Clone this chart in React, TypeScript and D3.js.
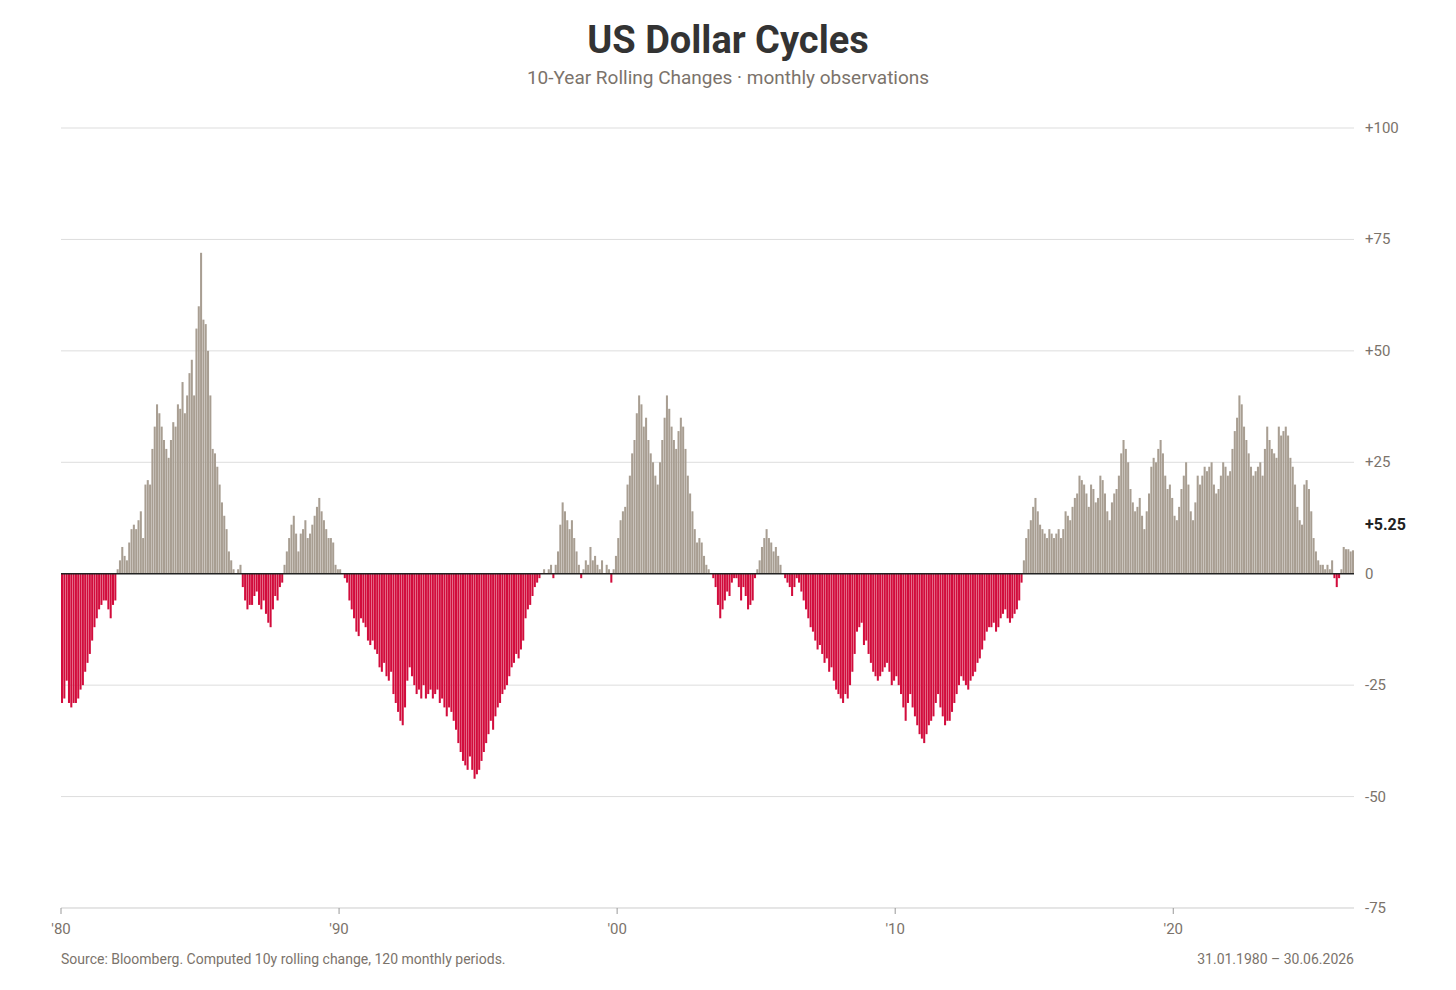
import * as d3 from "d3";

// Yearly blocks of monthly 10y rolling changes (%), Jan..Dec
const years = d3.range(1980, 2027);
const v1980 = [-29, -28, -24, -29, -30, -29, -29, -28, -26, -25, -22, -20];
const v1981 = [-18, -15, -12, -10, -8, -7, -6, -6, -8, -10, -7, -6];
const v1982 = [1, 3, 6, 4, 3, 7, 10, 11, 10, 12, 14, 8];
const v1983 = [20, 21, 20, 28, 33, 38, 36, 33, 30, 28, 26, 30];
const v1984 = [34, 33, 38, 37, 43, 36, 40, 45, 48, 40, 55, 60];
const v1985 = [72, 57, 56, 50, 40, 28, 27, 24, 20, 16, 13, 10];
const v1986 = [5, 3, 1, 0, 1, 2, -3, -6, -8, -7, -7, -5];
const v1987 = [-4, -7, -8, -6, -9, -11, -12, -8, -5, -6, -3, -2];
const v1988 = [2, 5, 8, 11, 13, 9, 5, 9, 10, 12, 8, 9];
const v1989 = [11, 13, 15, 17, 14, 12, 10, 8, 8, 7, 2, 1];
const v1990 = [1, 0, -1, -2, -6, -8, -10, -13, -14, -10, -11, -12];
const v1991 = [-15, -16, -15, -17, -18, -21, -22, -20, -23, -24, -22, -27];
const v1992 = [-29, -31, -33, -34, -30, -24, -21, -23, -25, -27, -26, -28];
const v1993 = [-25, -28, -27, -26, -28, -27, -26, -29, -28, -30, -32, -30];
const v1994 = [-31, -33, -35, -38, -40, -42, -43, -44, -41, -44, -46, -45];
const v1995 = [-44, -42, -40, -38, -36, -33, -35, -32, -30, -29, -27, -26];
const v1996 = [-25, -23, -21, -20, -18, -19, -17, -15, -10, -8, -7, -5];
const v1997 = [-3, -2, -1, 0, 1, 0, 1, 2, -1, 2, 5, 11];
const v1998 = [16, 14, 12, 10, 12, 8, 5, 2, -1, 1, 3, 2];
const v1999 = [6, 3, 4, 2, 1, 3, 0, 2, 1, -2, 1, 4];
const v2000 = [8, 12, 14, 15, 20, 22, 27, 30, 36, 40, 38, 33];
const v2001 = [35, 30, 27, 25, 22, 20, 25, 30, 35, 40, 37, 33];
const v2002 = [30, 28, 32, 35, 33, 28, 22, 18, 14, 10, 7, 8];
const v2003 = [7, 4, 2, 1, 0, -1, -3, -7, -10, -8, -6, -4];
const v2004 = [-5, -2, -1, -1, -3, -6, -3, -5, -8, -7, -6, -1];
const v2005 = [1, 3, 6, 8, 10, 8, 7, 5, 6, 4, 2, 0];
const v2006 = [-1, -2, -3, -5, -3, -1, -2, -4, -6, -8, -10, -12];
const v2007 = [-13, -15, -17, -16, -18, -20, -19, -22, -21, -24, -26, -27];
const v2008 = [-28, -29, -27, -28, -25, -22, -18, -13, -12, -11, -16, -15];
const v2009 = [-18, -20, -22, -23, -24, -23, -22, -21, -20, -22, -25, -24];
const v2010 = [-23, -25, -27, -30, -33, -29, -27, -30, -32, -34, -36, -37];
const v2011 = [-38, -36, -34, -33, -32, -29, -27, -30, -32, -34, -33, -33];
const v2012 = [-31, -29, -27, -25, -23, -24, -25, -26, -24, -23, -22, -20];
const v2013 = [-19, -17, -15, -13, -12, -12, -11, -13, -12, -10, -9, -8];
const v2014 = [-10, -11, -10, -9, -8, -6, -2, 3, 8, 10, 12, 15];
const v2015 = [17, 14, 11, 10, 9, 8, 10, 9, 8, 9, 10, 8];
const v2016 = [10, 14, 13, 12, 15, 17, 18, 22, 21, 20, 18, 15];
const v2017 = [20, 19, 16, 17, 22, 21, 18, 14, 12, 16, 18, 19];
const v2018 = [22, 27, 30, 28, 25, 19, 16, 14, 15, 17, 13, 10];
const v2019 = [14, 18, 24, 26, 25, 28, 30, 27, 22, 19, 20, 17];
const v2020 = [13, 12, 15, 19, 22, 25, 20, 14, 12, 16, 22, 20];
const v2021 = [22, 24, 23, 24, 25, 20, 18, 19, 22, 25, 24, 22];
const v2022 = [23, 28, 32, 35, 40, 38, 33, 30, 27, 24, 22, 23];
const v2023 = [24, 25, 22, 28, 33, 30, 28, 27, 26, 33, 31, 32];
const v2024 = [33, 31, 26, 24, 20, 15, 12, 11, 20, 21, 19, 14];
const v2025 = [8, 5, 3, 2, 2, 1, 2, 1, 3, -1, -3, -1];
const v2026 = [1, 6, 5.5, 5.5, 5, 5.25];

const yTicks = [100, 75, 50, 25, 0, -25, -50, -75];
const xTickYears = [1980, 1990, 2000, 2010, 2020];

const blocks = [
  v1980, v1981, v1982, v1983, v1984, v1985, v1986, v1987, v1988, v1989,
  v1990, v1991, v1992, v1993, v1994, v1995, v1996, v1997, v1998, v1999,
  v2000, v2001, v2002, v2003, v2004, v2005, v2006, v2007, v2008, v2009,
  v2010, v2011, v2012, v2013, v2014, v2015, v2016, v2017, v2018, v2019,
  v2020, v2021, v2022, v2023, v2024, v2025, v2026,
];
const values: { i: number; v: number }[] = [];
blocks.forEach((b) => b.forEach((v) => values.push({ i: values.length, v })));

const FONT = "Roboto, 'Noto Sans', sans-serif";

export default function App() {
  const left = 61;
  const right = 1354;
  const x = d3.scaleBand<number>().domain(values.map((d) => d.i)).range([left, right]).paddingInner(0.12);
  const y = d3.scaleLinear().domain([-75, 100]).range([908, 128]);
  const monthX = (yr: number) => left + ((yr - 1980) * 12) * ((right - left) / values.length);
  const last = values[values.length - 1].v;

  return (
    <svg width={1456} height={990} style={{ position: "absolute", left: 0, top: 0, background: "#fff" }} fontFamily={FONT}>
      <text x={728} y={53} textAnchor="middle" fontSize={38} fontWeight={700} fill="#333">US Dollar Cycles</text>
      <text x={728} y={84} textAnchor="middle" fontSize={19} fill="#7b736b">10-Year Rolling Changes · monthly observations</text>

      {yTicks.map((t) => (
        <g key={t}>
          {t !== 0 && <line x1={left} x2={1354} y1={y(t)} y2={y(t)} stroke="#ddd" strokeWidth={1} />}
          <text x={1365} y={y(t) + 5} fontSize={15} fill="#7b736b">{t > 0 ? `+${t}` : `${t}`}</text>
        </g>
      ))}

      {values.map((d) => (
        <rect
          key={d.i}
          x={x(d.i)}
          width={x.bandwidth()}
          y={d.v >= 0 ? y(d.v) : y(0)}
          height={Math.abs(y(d.v) - y(0))}
          fill={d.v >= 0 ? "#a89e92" : "#d20c3c"}
        />
      ))}

      <line x1={left} x2={1354} y1={y(0)} y2={y(0)} stroke="#222" strokeWidth={1.5} />
      <text x={1365} y={y(last) - 20} fontSize={16} fontWeight={700} fill="#222">+{last.toFixed(2)}</text>

      <line x1={left} x2={1354} y1={908} y2={908} stroke="#ddd" />
      {xTickYears.map((yr) => (
        <g key={yr}>
          <line x1={monthX(yr)} x2={monthX(yr)} y1={908} y2={914} stroke="#999" />
          <text x={monthX(yr)} y={934} textAnchor="middle" fontSize={15} fill="#7b736b">'{String(yr).slice(2)}</text>
        </g>
      ))}

      <text x={61} y={964} fontSize={14} fill="#7b736b">Source: Bloomberg. Computed 10y rolling change, 120 monthly periods.</text>
      <text x={1354} y={964} textAnchor="end" fontSize={14} fill="#7b736b">31.01.1980 – 30.06.2026</text>
    </svg>
  );
}
